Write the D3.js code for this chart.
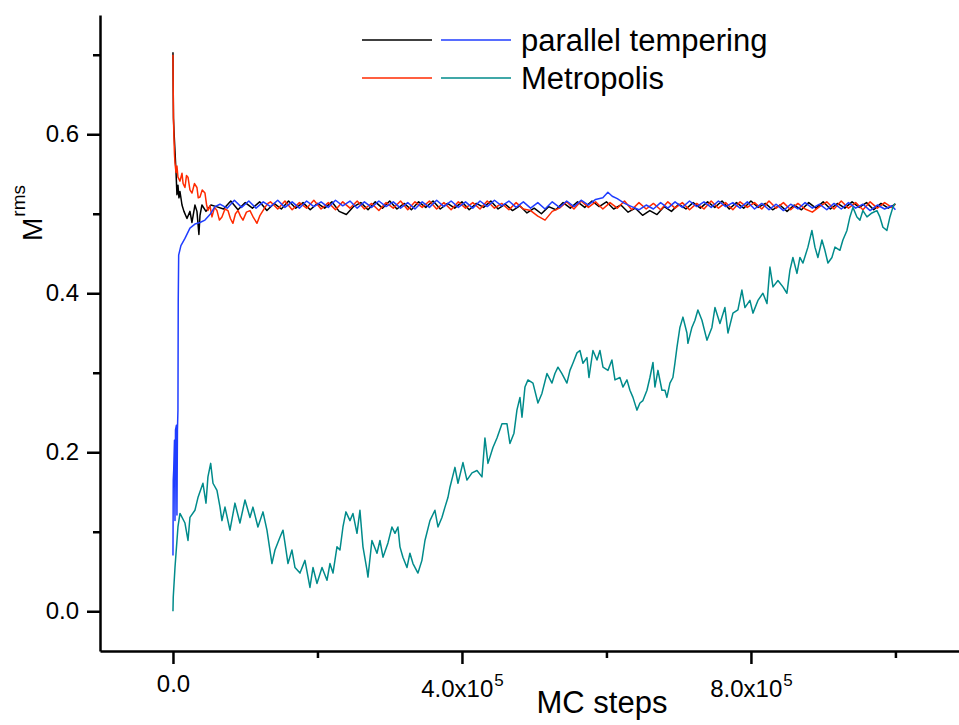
<!DOCTYPE html>
<meta charset="utf-8">
<title>M rms vs MC steps</title>
<style>

body {
  margin: 0;
  background: #fff;
}

svg {
  font-family: "Liberation Sans", Arial, sans-serif;
}

.axis path, .axis line {
  stroke: #000;
  stroke-width: 2.5px;
}

.axis text {
  fill: #000;
  font-size: 24px;
}

.series {
  fill: none;
  stroke-width: 1.5px;
  stroke-linejoin: round;
}

</style>

<svg width="959" height="725"></svg>
<script src="https://d3js.org/d3.v7.min.js"></script>
<script>

// MC steps are in units of 1000
var ptBlack = [
  [0,0.703],[0.3,0.660],[0.7,0.620],[1.4,0.604],[2.8,0.579],[4.2,0.553],[5.5,0.524],[6.9,0.536],
  [8.3,0.520],[9.7,0.528],[12.5,0.511],[15.2,0.503],[19.4,0.494],[23.5,0.503],[26.3,0.489],
  [30.4,0.511],[33.2,0.503],[35.9,0.474],[37.4,0.498],[40.1,0.511],[45.7,0.503],[52.6,0.511],
  [60,0.509],[70,0.506],[80,0.516],[90,0.505],[100,0.514],[110,0.507],[120,0.515],[130,0.504],
  [140,0.513],[150,0.506],[160,0.516],[170,0.507],[180,0.514],[190,0.505],[200,0.513],[210,0.507],
  [220,0.515],[230,0.503],[240,0.499],[250,0.509],[260,0.514],[270,0.505],[280,0.515],[290,0.507],
  [300,0.516],[310,0.506],[320,0.513],[330,0.505],[340,0.515],[350,0.508],[360,0.516],[370,0.506],
  [380,0.513],[390,0.507],[400,0.515],[410,0.505],[420,0.513],[430,0.508],[440,0.516],[450,0.506],
  [460,0.512],[470,0.504],[480,0.510],[490,0.501],[500,0.507],[510,0.500],[520,0.509],[530,0.505],
  [540,0.514],[550,0.507],[560,0.515],[570,0.508],[580,0.516],[590,0.509],[600,0.515],[610,0.506],
  [620,0.511],[630,0.502],[640,0.507],[650,0.498],[660,0.504],[670,0.499],[680,0.509],[690,0.503],
  [700,0.512],[710,0.506],[720,0.514],[730,0.507],[740,0.515],[750,0.508],[760,0.516],[770,0.506],
  [780,0.514],[790,0.507],[800,0.516],[810,0.508],[820,0.513],[830,0.505],[840,0.511],[850,0.503],
  [860,0.511],[870,0.505],[880,0.514],[890,0.507],[900,0.515],[910,0.506],[920,0.513],[930,0.507],
  [940,0.515],[950,0.508],[960,0.514],[970,0.505],[980,0.513],[990,0.507],[1000,0.512]
];

var metroRed = [
  [0,0.700],[0.3,0.660],[0.7,0.620],[1.4,0.595],[2.1,0.575],[2.8,0.564],[4.2,0.552],[5.5,0.560],
  [6.9,0.546],[9.7,0.541],[12.5,0.551],[14,0.538],[16.6,0.533],[18.7,0.548],[20.8,0.546],
  [23.5,0.530],[26.3,0.526],[29.8,0.538],[33.2,0.533],[35,0.520],[37.4,0.521],[40.5,0.530],
  [44.3,0.526],[46.4,0.512],[48.4,0.504],[51.3,0.510],[54,0.496],[57.5,0.508],[60.9,0.504],
  [64.3,0.492],[67.8,0.496],[72,0.506],[76.1,0.504],[79.5,0.494],[83,0.488],[86.5,0.500],
  [90,0.504],[93.4,0.497],[96.9,0.492],[101.7,0.502],[106.6,0.504],[111.5,0.495],[116.3,0.488],
  [120.5,0.498],[124.6,0.504],[128,0.509],[131.5,0.513],
  [135,0.515],[145,0.506],[155,0.516],[165,0.505],[175,0.514],[185,0.507],[195,0.517],[205,0.506],
  [215,0.514],[225,0.505],[235,0.515],[245,0.507],[255,0.516],[265,0.506],[275,0.513],[285,0.504],
  [295,0.514],[305,0.507],[315,0.516],[325,0.505],[335,0.515],[345,0.508],[355,0.516],[365,0.506],
  [375,0.514],[385,0.505],[395,0.515],[405,0.507],[415,0.514],[425,0.506],[435,0.516],[445,0.507],
  [455,0.513],[465,0.505],[475,0.514],[485,0.506],[495,0.504],[505,0.497],[515,0.492],[525,0.503],
  [535,0.507],[545,0.515],[555,0.506],[565,0.516],[575,0.508],[585,0.515],[595,0.506],[605,0.514],
  [615,0.507],[625,0.516],[635,0.505],[645,0.514],[655,0.506],[665,0.513],[675,0.505],[685,0.515],
  [695,0.507],[705,0.514],[715,0.505],[725,0.513],[735,0.506],[745,0.516],[755,0.507],[765,0.514],
  [775,0.505],[785,0.515],[795,0.508],[805,0.514],[815,0.506],[825,0.516],[835,0.507],[845,0.514],
  [855,0.505],[865,0.513],[875,0.506],[885,0.502],[895,0.509],[905,0.515],[915,0.506],[925,0.516],
  [935,0.507],[945,0.514],[955,0.505],[965,0.515],[975,0.507],[985,0.514],[995,0.508],[1000,0.512]
];

var ptBlue = [
  [0,0.070],[0.4,0.165],[1.0,0.177],[2.1,0.215],[2.8,0.114],[3.5,0.228],[4.8,0.234],[5.5,0.121],
  [6.2,0.228],[6.9,0.253],[7.3,0.391],[7.9,0.448],[11,0.460],[16.6,0.469],[23.5,0.482],
  [30.4,0.487],[37.4,0.489],[44.3,0.492],[51.2,0.499],[58.1,0.509],
  [65,0.512],[75,0.507],[85,0.517],[95,0.508],[105,0.516],[115,0.507],[125,0.515],[135,0.509],
  [145,0.517],[155,0.508],[165,0.515],[175,0.507],[185,0.516],[195,0.509],[205,0.515],[215,0.508],
  [225,0.517],[235,0.510],[245,0.516],[255,0.507],[265,0.515],[275,0.508],[285,0.516],[295,0.509],
  [305,0.515],[315,0.507],[325,0.514],[335,0.506],[345,0.515],[355,0.508],[365,0.517],[375,0.509],
  [385,0.516],[395,0.508],[405,0.515],[415,0.507],[425,0.516],[435,0.509],[445,0.517],[455,0.510],
  [465,0.516],[475,0.508],[485,0.515],[495,0.507],[505,0.514],[515,0.506],[525,0.515],[535,0.508],
  [545,0.516],[555,0.509],[565,0.517],[575,0.511],[585,0.518],[595,0.520],[602,0.527],[608,0.522],
  [615,0.519],[625,0.513],[635,0.509],[645,0.505],[655,0.511],[665,0.506],[675,0.514],[685,0.507],
  [695,0.515],[705,0.508],[715,0.516],[725,0.509],[735,0.515],[745,0.508],[755,0.516],[765,0.509],
  [775,0.514],[785,0.507],[795,0.515],[805,0.506],[815,0.513],[825,0.505],[835,0.512],[845,0.504],
  [855,0.512],[865,0.506],[875,0.514],[885,0.507],[895,0.512],[905,0.505],[915,0.513],[925,0.506],
  [935,0.514],[945,0.507],[955,0.512],[965,0.504],[975,0.511],[985,0.506],[995,0.510],[1000,0.505]
];

var metroTeal = [
  [0,0.000],[0.4,0.018],[2.8,0.055],[6.9,0.106],[9.7,0.123],[16.6,0.111],[20.8,0.089],[23.5,0.118],
  [30.4,0.127],[34.6,0.143],[41.5,0.161],[45.7,0.136],[48.4,0.169],[52.2,0.186],[55.4,0.161],
  [60.9,0.152],[65.1,0.131],[67.8,0.114],[72.0,0.131],[78.9,0.102],[85.8,0.136],[92.7,0.111],
  [99.7,0.140],[106.6,0.118],[110.7,0.131],[117.6,0.106],[124.6,0.125],[130.1,0.102],[137.0,0.060],
  [141.2,0.077],[148.1,0.093],[152.3,0.102],[155.0,0.086],[159.2,0.060],[164.7,0.077],[168.9,0.055],
  [175.8,0.048],[182.7,0.064],[189.6,0.030],[193.8,0.055],[199.3,0.035],[206.3,0.055],[213.2,0.039],
  [217.3,0.060],[221.5,0.048],[227.0,0.081],[231.1,0.077],[235.3,0.106],[239.4,0.125],[245.0,0.114],
  [249.1,0.123],[254.7,0.098],[258.8,0.127],[263.0,0.081],[268.5,0.052],[269.9,0.043],[275.4,0.089],
  [282.4,0.073],[286.5,0.089],[290.7,0.068],[297.6,0.086],[303.1,0.106],[307.3,0.098],[311.4,0.106],
  [314.2,0.081],[318.3,0.068],[323.9,0.055],[328.0,0.073],[332.2,0.060],[339.1,0.048],[344.6,0.064],
  [348.8,0.089],[355.7,0.114],[362.6,0.127],[366.8,0.106],[372.3,0.118],[376.5,0.131],[380.6,0.143],
  [383.4,0.156],[390.3,0.181],[394.5,0.161],[401.4,0.187],[406.9,0.165],[413.9,0.174],[420.8,0.177],
  [427.7,0.169],[431.8,0.218],[436.0,0.186],[442.9,0.206],[448.5,0.218],[455.4,0.236],[462.3,0.236],
  [466.4,0.211],[472.0,0.224],[476.1,0.253],[480.3,0.269],[483.1,0.244],[487.2,0.282],[491.4,0.291],
  [498.3,0.287],[505.2,0.262],[510.7,0.274],[517.7,0.299],[524.6,0.287],[528.7,0.299],[532.9,0.307],
  [538.4,0.299],[545.3,0.287],[549.5,0.303],[553.6,0.312],[559.2,0.325],[563.3,0.328],[567.5,0.312],
  [573.0,0.319],[575.8,0.294],[581.3,0.328],[586.9,0.316],[591.0,0.328],[595.2,0.307],[602.1,0.303],
  [607.6,0.316],[611.8,0.291],[618.7,0.294],[622.8,0.282],[628.4,0.291],[632.5,0.278],[636.7,0.269],
  [642.2,0.253],[646.4,0.262],[650.5,0.265],[656.1,0.278],[660.2,0.294],[664.4,0.313],[667.1,0.282],
  [671.3,0.303],[676.8,0.278],[681.0,0.278],[683.7,0.269],[687.9,0.287],[692.0,0.294],[694.8,0.312],
  [697.6,0.332],[701.7,0.357],[705.9,0.370],[711.4,0.350],[712.8,0.337],[718.3,0.357],[722.5,0.366],
  [726.6,0.379],[732.2,0.366],[739.1,0.341],[746.0,0.357],[750.2,0.382],[757.1,0.362],[764.0,0.382],
  [768.2,0.350],[775.1,0.375],[782.0,0.379],[787.5,0.404],[791.7,0.382],[798.6,0.391],[802.8,0.375],
  [809.7,0.391],[816.6,0.400],[822.2,0.387],[826.3,0.433],[830.5,0.408],[837.4,0.416],[844.3,0.408],
  [849.8,0.400],[854.0,0.429],[858.1,0.445],[863.7,0.425],[867.8,0.445],[872.0,0.438],[878.9,0.458],
  [884.4,0.479],[888.6,0.458],[892.7,0.445],[898.3,0.467],[902.4,0.454],[906.6,0.438],[912.1,0.445],
  [916.3,0.458],[923.2,0.454],[927.3,0.467],[932.9,0.479],[937.0,0.496],[941.2,0.508],[946.7,0.496],
  [950.9,0.492],[955.0,0.504],[960.6,0.496],[967.5,0.501],[974.4,0.504],[978.5,0.496],[982.7,0.483],
  [988.2,0.479],[992.4,0.496],[996.5,0.508],[999.3,0.513]
];

var yMajor = [0, 0.2, 0.4, 0.6];
var yMinor = [0.1, 0.3, 0.5, 0.7];
var xMajor = [0, 4e5, 8e5];
var xMinor = [2e5, 6e5, 1e6];

var legendRows = [
  {label: "parallel tempering", colors: ["#000000", "#1f3dff"]},
  {label: "Metropolis", colors: ["#ff2a00", "#008b8b"]}
];

var svg = d3.select("svg");

var x = d3.scaleLinear().domain([-1.01e5, 1.088e6]).range([100, 959]);
var y = d3.scaleLinear().domain([-0.05, 0.75]).range([651, 15]);

var line = d3.line()
  .x(function(d) { return x(d[0] * 1000); })
  .y(function(d) { return y(d[1]); });

// series, drawn in the same order as the original
[[ptBlack, "#000000"], [metroRed, "#ff2a00"], [ptBlue, "#1f3dff"], [metroTeal, "#008b8b"]]
  .forEach(function(s) {
    svg.append("path")
      .datum(s[0])
      .attr("class", "series")
      .attr("stroke", s[1])
      .attr("d", line);
  });

// y axis
svg.append("g")
  .attr("class", "axis")
  .attr("transform", "translate(100,0)")
  .call(d3.axisLeft(y).tickValues(yMajor).tickSize(13).tickSizeOuter(0)
    .tickPadding(8).tickFormat(d3.format(".1f")))
  .attr("font-size", null).attr("font-family", null);

svg.append("g")
  .attr("class", "axis")
  .attr("transform", "translate(100,0)")
  .call(d3.axisLeft(y).tickValues(yMinor).tickSize(7).tickFormat(""))
  .select(".domain").remove();

// x axis
var gx = svg.append("g")
  .attr("class", "axis")
  .attr("transform", "translate(0,651)")
  .call(d3.axisBottom(x).tickValues(xMajor).tickSize(13).tickSizeOuter(0).tickPadding(11))
  .attr("font-size", null).attr("font-family", null);

gx.selectAll(".tick text").each(function(d) {
  var t = d3.select(this).text("");
  if (d === 0) {
    t.text("0.0");
    return;
  }
  var e = Math.floor(Math.log10(d));
  t.attr("y", 29);
  t.append("tspan").text((d / Math.pow(10, e)).toFixed(1) + "x10");
  t.append("tspan").attr("font-size", "17px").attr("dx", 1).attr("dy", -11).text(e);
});

svg.append("g")
  .attr("class", "axis")
  .attr("transform", "translate(0,651)")
  .call(d3.axisBottom(x).tickValues(xMinor).tickSize(7).tickFormat(""))
  .select(".domain").remove();

// axis titles
svg.append("text")
  .attr("x", 602)
  .attr("y", 713)
  .attr("text-anchor", "middle")
  .style("font-size", "31px")
  .text("MC steps");

var yt = svg.append("text")
  .attr("transform", "translate(42,213) rotate(-90)")
  .attr("text-anchor", "middle")
  .style("font-size", "28px");
yt.append("tspan").text("M");
yt.append("tspan").attr("font-size", "19px").attr("dx", 1).attr("dy", -17).text("rms");

// legend
var leg = svg.append("g").selectAll("g")
  .data(legendRows)
  .enter().append("g")
  .attr("transform", function(d, i) { return "translate(0," + (40 + i * 38) + ")"; });

leg.append("line")
  .attr("x1", 362).attr("x2", 432)
  .attr("stroke", function(d) { return d.colors[0]; })
  .attr("stroke-width", 1.5);

leg.append("line")
  .attr("x1", 441).attr("x2", 511)
  .attr("stroke", function(d) { return d.colors[1]; })
  .attr("stroke-width", 1.5);

leg.append("text")
  .attr("x", 521)
  .attr("y", 11)
  .style("font-size", "31px")
  .text(function(d) { return d.label; });

</script>
